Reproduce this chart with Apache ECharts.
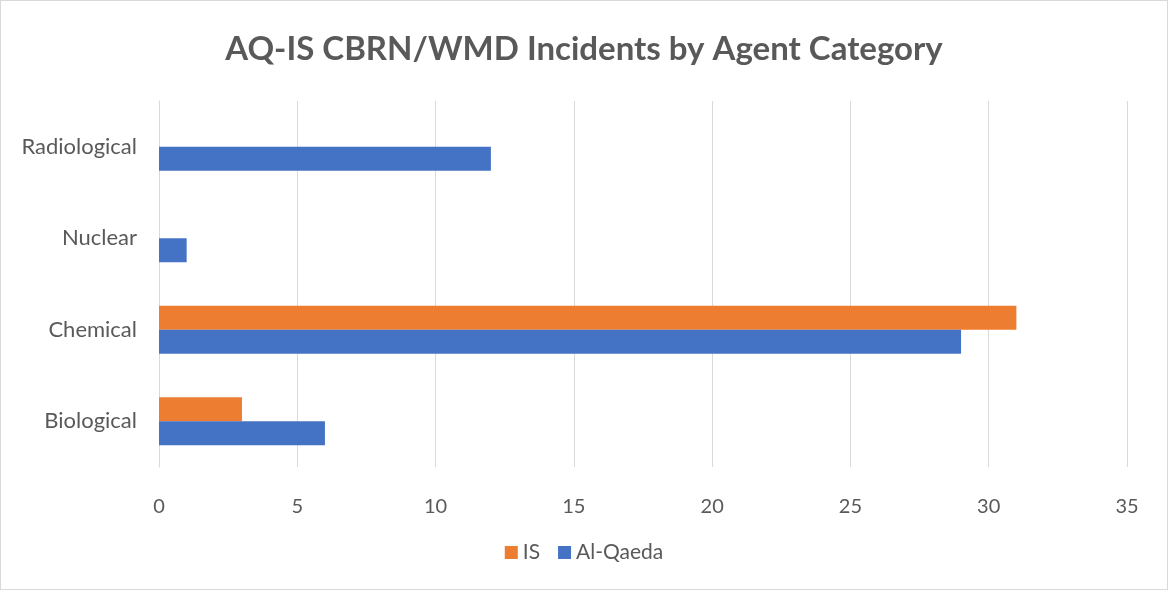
<!DOCTYPE html>
<html>
<head>
    <meta charset="UTF-8">
    <title>AQ-IS CBRN/WMD Incidents</title>
    <script src="https://cdn.jsdelivr.net/npm/echarts@6/dist/echarts.min.js"></script>
    <style>
        *{margin:0;padding:0;}
        body,html{width:100%;height:100%;background:#fff;}
        #main{position:absolute;left:0;top:0;width:1166px;height:588px;border:1px solid #d9d9d9;}
    </style>
</head>
<body>
<div id="main"></div>
<script>
    var categories = ['Biological', 'Chemical', 'Nuclear', 'Radiological'];
    var alQaeda = [6, 29, 1, 12];
    var isData = [3, 31, 0, 0];
    var xTicks = [0, 5, 10, 15, 20, 25, 30, 35];

    var chart = echarts.init(document.getElementById('main'));
    var font = 'Lato, "Open Sans", sans-serif';
    chart.setOption({
        animation: false,
        title: {
            text: 'AQ-IS CBRN/WMD Incidents by Agent Category',
            left: 'center',
            top: 27,
            textStyle: {fontFamily: font, fontSize: 33, fontWeight: 'bold', color: '#595959'}
        },
        legend: {
            bottom: 21,
            left: 'center',
            itemWidth: 13,
            itemHeight: 13,
            itemGap: 18,
            icon: 'rect',
            data: ['IS', 'Al-Qaeda'],
            textStyle: {fontFamily: font, fontSize: 21, color: '#595959'}
        },
        grid: {left: 158, right: 40, top: 100, bottom: 122},
        xAxis: {
            type: 'value',
            min: xTicks[0],
            max: xTicks[xTicks.length - 1],
            interval: 5,
            axisLine: {show: false},
            axisTick: {show: false},
            splitLine: {lineStyle: {color: '#d9d9d9', width: 1}},
            axisLabel: {fontFamily: font, fontSize: 20, color: '#595959', margin: 30}
        },
        yAxis: {
            type: 'category',
            data: categories,
            axisLine: {lineStyle: {color: '#d9d9d9', width: 1}},
            axisTick: {show: false},
            axisLabel: {fontFamily: font, fontSize: 22, color: '#595959', margin: 22}
        },
        series: [
            {
                name: 'IS',
                type: 'bar',
                data: isData,
                barWidth: 24,
                barGap: '0%',
                itemStyle: {color: '#ed7d31'}
            },
            {
                name: 'Al-Qaeda',
                type: 'bar',
                data: alQaeda,
                barWidth: 24,
                barGap: '0%',
                itemStyle: {color: '#4472c4'}
            }
        ]
    });
</script>
</body>
</html>
